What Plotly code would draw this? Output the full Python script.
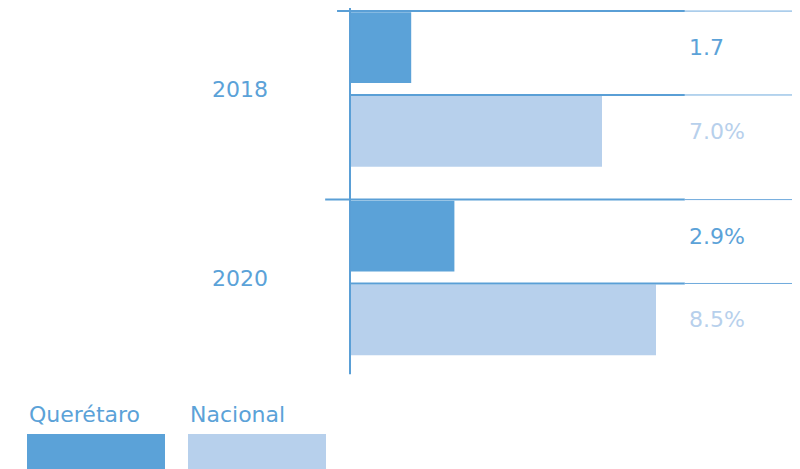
import plotly.graph_objects as go

# data
years = ["2018", "2020"]
queretaro = [1.7, 2.9]
nacional = [7.0, 8.5]
queretaro_labels = ["1.7", "2.9%"]
nacional_labels = ["7.0%", "8.5%"]

dark = "#5ba2d8"
light = "#b7d0ec"
line_col = "#5a9fd6"
font_fam = "DejaVu Sans"
fs = 22

W, H = 800, 469
off = 8  # page offset of the plot div
px_per_unit = 36.0
x_zero = 350 - off
cat_px = 188.5
first_cat_px = 89.5 - off

x_range = [-x_zero / px_per_unit, (W - x_zero) / px_per_unit]
y_range = [(H - first_cat_px) / cat_px, -first_cat_px / cat_px]

bar_w = 0.375
q_off = -0.41
n_off = 0.035

fig = go.Figure()
fig.add_trace(go.Bar(orientation="h", y=years, x=queretaro, width=bar_w, offset=q_off,
                     marker=dict(color=dark, line=dict(width=0)), name="Querétaro"))
fig.add_trace(go.Bar(orientation="h", y=years, x=nacional, width=bar_w, offset=n_off,
                     marker=dict(color=light, line=dict(width=0)), name="Nacional"))

shapes = []
# vertical axis line
shapes.append(dict(type="line", xref="x", yref="y", x0=0, x1=0, y0=y_range[1], y1=1.51,
                   line=dict(color=line_col, width=2)))
# horizontal rule lines at the top of each bar
starts = {(0, "q"): -0.36, (0, "n"): 0.0, (1, "q"): -0.69, (1, "n"): 0.0}
for i in range(len(years)):
    for key, yy in (("q", i + q_off - 0.006), ("n", i + n_off - 0.006)):
        shapes.append(dict(type="line", xref="x", yref="y", x0=starts[(i, key)], x1=9.3,
                           y0=yy, y1=yy, line=dict(color=line_col, width=2)))
        shapes.append(dict(type="line", xref="x", yref="y", x0=9.3, x1=x_range[1] + 1,
                           y0=yy, y1=yy, line=dict(color="#6faadd", width=1)))

annotations = []
for i, y in enumerate(years):
    annotations.append(dict(x=-2.22, y=i, xref="x", yref="y", text=y, showarrow=False,
                            xanchor="right", yanchor="middle",
                            font=dict(family=font_fam, size=fs, color=dark)))
    annotations.append(dict(x=9.35, y=i + q_off + bar_w / 2, xref="x", yref="y",
                            text=queretaro_labels[i], showarrow=False, xanchor="left",
                            yanchor="middle",
                            font=dict(family=font_fam, size=fs, color=dark)))
    annotations.append(dict(x=9.35, y=i + n_off + bar_w / 2, xref="x", yref="y",
                            text=nacional_labels[i], showarrow=False, xanchor="left",
                            yanchor="middle",
                            font=dict(family=font_fam, size=fs, color=light)))

# custom legend
for name, col, x0 in (("Querétaro", dark, 27 - off), ("Nacional", light, 188 - off)):
    shapes.append(dict(type="rect", xref="paper", yref="paper", x0=x0 / W, x1=(x0 + 138) / W,
                       y0=1 - (469 - off) / H, y1=1 - (434 - off) / H,
                       fillcolor=col, line=dict(width=0)))
    annotations.append(dict(x=x0 / W, y=1 - (414 - off) / H, xref="paper", yref="paper",
                            text=name, showarrow=False, xanchor="left", yanchor="middle",
                            font=dict(family=font_fam, size=fs, color=dark)))

fig.update_layout(
    width=W, height=H,
    margin=dict(l=0, r=0, t=0, b=0),
    paper_bgcolor="white", plot_bgcolor="white",
    showlegend=False,
    xaxis=dict(range=x_range, visible=False, fixedrange=True),
    yaxis=dict(range=y_range, visible=False, categoryorder="array", categoryarray=years),
    shapes=shapes,
    annotations=annotations,
)

fig.write_html("out.html")
